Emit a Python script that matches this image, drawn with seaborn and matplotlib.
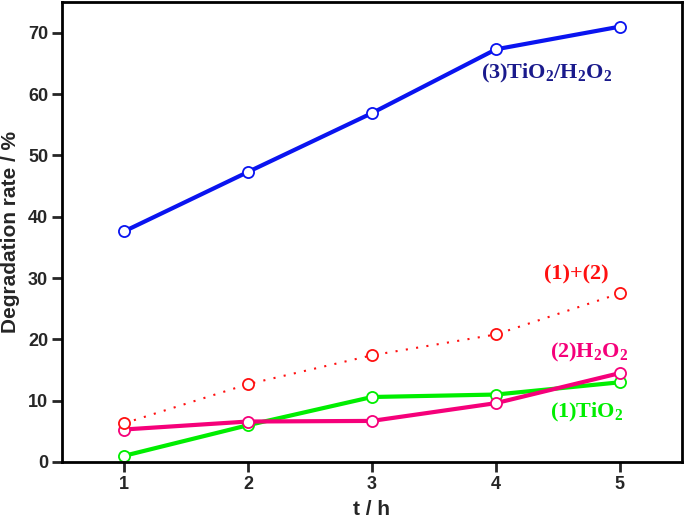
import matplotlib
matplotlib.use("Agg")
import matplotlib.pyplot as plt
import numpy as np
import pandas as pd
import seaborn as sns

# Reaction time (h)
hours = [1, 2, 3, 4, 5]

# Degradation rate (%) per system
tio2 = [1.0, 6.0, 10.6, 11.0, 13.0]
h2o2 = [5.3, 6.6, 6.7, 9.6, 14.5]
tio2_h2o2 = [37.6, 47.3, 56.9, 67.3, 71.0]
sum_1_2 = [6.3, 12.7, 17.4, 20.8, 27.5]

series_names = ["(1)TiO2", "(2)H2O2", "(3)TiO2/H2O2", "(1)+(2)"]
series_values = [tio2, h2o2, tio2_h2o2, sum_1_2]

df = pd.DataFrame(
    [(name, t, v) for name, vals in zip(series_names, series_values)
     for t, v in zip(hours, vals)],
    columns=["series", "t", "rate"],
)

sns.set_style("ticks")
plt.rcParams["font.family"] = ["Liberation Sans", "DejaVu Sans"]
# serif bold for the in-plot labels, subscripts included
plt.rcParams["mathtext.fontset"] = "custom"
plt.rcParams["mathtext.rm"] = "Liberation Serif:bold"
plt.rcParams["mathtext.bf"] = "Liberation Serif:bold"
plt.rcParams["mathtext.it"] = "Liberation Serif:bold"

styles = {
    "(1)TiO2": dict(color="#00ee00", ls="-", lw=3),
    "(2)H2O2": dict(color="#f5007a", ls="-", lw=3),
    "(3)TiO2/H2O2": dict(color="#0a14f0", ls="-", lw=3),
    "(1)+(2)": dict(color="#ff1010", ls=(0, (1, 4)), lw=1.5),
}

fig = plt.figure(figsize=(6.85, 5.25), dpi=100)
ax = fig.add_axes([0.0905, 0.12, 0.905, 0.876])

for name in series_names:
    st = styles[name]
    sub = df[df["series"] == name]
    sns.lineplot(
        data=sub, x="t", y="rate", ax=ax,
        color=st["color"], linestyle=st["ls"], linewidth=st["lw"],
        marker="o", markersize=8, markerfacecolor="white",
        markeredgecolor=st["color"], markeredgewidth=1.3,
        legend=False,
    )

ax.set_xlim(0.5, 5.5)
ax.set_ylim(0, 75)
ax.set_xticks(hours)
ax.set_yticks(np.arange(0, 71, 10))
for side in ["left", "bottom", "top", "right"]:
    ax.spines[side].set_linewidth(2)
    ax.spines[side].set_color("black")
ax.tick_params(axis="both", direction="out", length=7, width=2,
               labelsize=13, pad=3)
for lbl in ax.get_xticklabels() + ax.get_yticklabels():
    lbl.set_fontweight("bold")

ax.set_xlabel("t / h", fontsize=15, fontweight="bold", labelpad=5)
ax.set_ylabel("Degradation rate / %", fontsize=15, fontweight="bold", labelpad=6)

serif = ["Liberation Serif", "DejaVu Serif"]
label_kw = dict(fontsize=16, fontweight="bold", family=serif,
                ha="center", va="center")
ax.text(4.41, 63.3, r"(3)TiO$_2$/H$_2$O$_2$", color="#1a1a8c", **label_kw)
ax.text(4.65, 30.6, "(1)+(2)", color="#ff1010", **label_kw)
ax.text(4.75, 17.9, r"(2)H$_2$O$_2$", color="#f5007a", **label_kw)
ax.text(4.73, 8.0, r"(1)TiO$_2$", color="#00ee00", **label_kw)

fig.savefig("out.png", dpi=100)
